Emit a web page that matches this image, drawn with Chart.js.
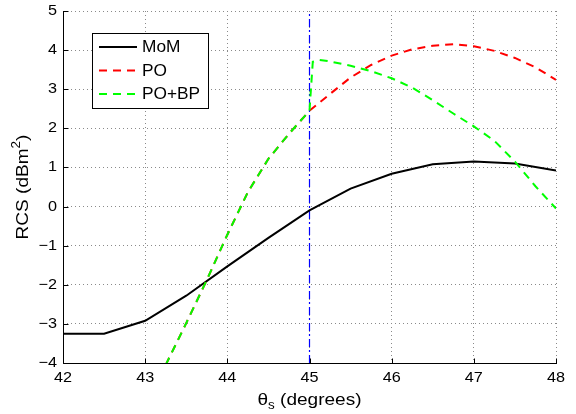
<!DOCTYPE html>
<html><head><meta charset="utf-8">
<script src="https://cdn.jsdelivr.net/npm/chart.js@4/dist/chart.umd.min.js"></script>
<style>html,body{margin:0;padding:0;background:#fff}canvas{display:block}</style>
</head><body>
<canvas id="c" width="576" height="414"></canvas>
<script>
// ---- data ----
const momAngles = [42, 42.5, 43, 43.5, 44, 44.5, 45, 45.5, 46, 46.5, 47, 47.5, 48];
const momRCS    = [-3.25, -3.25, -2.92, -2.28, -1.53, -0.80, -0.10, 0.46, 0.84, 1.08, 1.15, 1.10, 0.92];
const poAngles  = [43.25, 43.5, 43.75, 44, 44.25, 44.5, 44.75, 45, 45.25, 45.5, 45.75, 46, 46.25, 46.5, 46.75, 47, 47.25, 47.5, 47.75, 48];
const poRCS     = [-4.05, -2.98, -1.88, -0.72, 0.37, 1.22, 1.86, 2.45, 2.88, 3.30, 3.62, 3.86, 4.02, 4.11, 4.15, 4.10, 3.98, 3.80, 3.56, 3.24];
const pobpAngles = [43.25, 43.5, 43.75, 44, 44.25, 44.5, 44.75, 45, 45.04, 45.12, 45.25, 45.5, 45.75, 46, 46.25, 46.5, 46.75, 47, 47.25, 47.5, 47.75, 48];
const pobpRCS    = [-4.05, -2.98, -1.88, -0.72, 0.37, 1.22, 1.86, 2.45, 3.70, 3.75, 3.71, 3.60, 3.46, 3.28, 3.04, 2.72, 2.38, 2.05, 1.68, 1.15, 0.52, -0.05];
const markerAngles = [45, 45];
const markerRCS    = [-4, 5];
const xTicks = [42, 43, 44, 45, 46, 47, 48];
const yTicks = [-4, -3, -2, -1, 0, 1, 2, 3, 4, 5];
const seriesNames = ['MoM', 'PO', 'PO+BP'];
const xTitle = ['\u03B8', 's', ' (degrees)'];
const yTitle = ['RCS (dBm', '2', ')'];

const toXY = (xs, ys) => xs.map((x, i) => ({x: x, y: ys[i]}));
const FONT = '"Liberation Sans", Arial, Helvetica, sans-serif';
const fmt = v => v < 0 ? '\u2212' + Math.abs(v) : String(v);

const styles = [
  {color: '#000000', dash: []},
  {color: '#ff0000', dash: [8, 6]},
  {color: '#00ff00', dash: [8, 6]}
];

function drawText(ctx, text, x, y, size, sx, align, base) {
  ctx.save();
  ctx.font = size + 'px ' + FONT;
  ctx.translate(x, y);
  ctx.scale(sx, 1);
  ctx.textAlign = align;
  ctx.textBaseline = base || 'middle';
  ctx.fillText(text, 0, 0);
  ctx.restore();
}

function drawRich(ctx, segs, sx) {
  let total = 0;
  segs.forEach(s => { ctx.font = s.size + 'px ' + FONT; s.w = ctx.measureText(s.t).width * sx; total += s.w; });
  let x = -total / 2;
  segs.forEach(s => {
    ctx.save();
    ctx.font = s.size + 'px ' + FONT;
    ctx.translate(x, s.dy || 0);
    ctx.scale(sx, 1);
    ctx.textAlign = 'left';
    ctx.textBaseline = 'middle';
    ctx.fillStyle = '#000';
    ctx.fillText(s.t, 0, 0);
    ctx.restore();
    x += s.w;
  });
}

const decor = {
  id: 'decor',
  afterDraw(chart) {
    const ctx = chart.ctx;
    const xs = chart.scales.x, ys = chart.scales.y;
    const a = chart.chartArea;
    const L = Math.round(a.left) + 0.5, B = Math.round(a.bottom) + 0.5;
    ctx.save();
    ctx.strokeStyle = '#000';
    ctx.lineWidth = 1;
    ctx.setLineDash([]);
    ctx.beginPath();
    ctx.moveTo(L, Math.round(a.top));
    ctx.lineTo(L, B);
    ctx.lineTo(Math.round(a.right) + 1, B);
    yTicks.forEach(v => { const p = Math.round(ys.getPixelForValue(v)) + 0.5; ctx.moveTo(L, p); ctx.lineTo(L + 5, p); });
    xTicks.forEach(v => { const p = Math.round(xs.getPixelForValue(v)) + 0.5; ctx.moveTo(p, B); ctx.lineTo(p, B - 5); });
    ctx.stroke();

    ctx.fillStyle = '#000';
    yTicks.forEach(v => drawText(ctx, fmt(v), a.left - 6, ys.getPixelForValue(v), 14.5, 1.12, 'right'));
    xTicks.forEach(v => drawText(ctx, fmt(v), xs.getPixelForValue(v), a.bottom + 15, 14.5, 1.12, 'center'));

    ctx.save();
    ctx.translate((a.left + a.right) / 2, 400);
    drawRich(ctx, [
      {t: xTitle[0], size: 17},
      {t: xTitle[1], size: 12, dy: 6},
      {t: xTitle[2], size: 17}
    ], 1.12);
    ctx.restore();

    ctx.save();
    ctx.translate(23, (a.top + a.bottom) / 2);
    ctx.rotate(-Math.PI / 2);
    drawRich(ctx, [
      {t: yTitle[0], size: 17},
      {t: yTitle[1], size: 12, dy: -6},
      {t: yTitle[2], size: 17}
    ], 1.12);
    ctx.restore();

    const bx = 92.5, by = 33.5, bw = 116, bh = 75;
    ctx.fillStyle = '#fff';
    ctx.fillRect(bx, by, bw, bh);
    ctx.strokeStyle = '#000';
    ctx.lineWidth = 1;
    ctx.strokeRect(bx, by, bw, bh);
    const rows = [47, 70.5, 94];
    seriesNames.forEach((n, i) => {
      ctx.save();
      ctx.strokeStyle = styles[i].color;
      ctx.lineWidth = 2;
      ctx.setLineDash(styles[i].dash);
      ctx.beginPath();
      ctx.moveTo(99, rows[i]);
      ctx.lineTo(137, rows[i]);
      ctx.stroke();
      ctx.restore();
      ctx.fillStyle = '#000';
      drawText(ctx, n, 142, rows[i] + 1, 16, 1.08, 'left');
    });
    ctx.restore();
  }
};

const axisCommon = {
  type: 'linear',
  grid: {color: '#8a8a8a', lineWidth: 1, drawTicks: false, tickBorderDash: [1, 3]},
  border: {display: false, dash: [1, 3]},
  ticks: {display: false}
};

new Chart(document.getElementById('c').getContext('2d'), {
  type: 'line',
  data: {
    datasets: [
      {label: seriesNames[0], data: toXY(momAngles, momRCS), borderColor: styles[0].color, borderWidth: 2, borderDash: styles[0].dash, pointRadius: 0, tension: 0, order: 2},
      {label: seriesNames[1], data: toXY(poAngles, poRCS), borderColor: styles[1].color, borderWidth: 2, borderDash: styles[1].dash, pointRadius: 0, tension: 0, order: 1},
      {label: seriesNames[2], data: toXY(pobpAngles, pobpRCS), borderColor: styles[2].color, borderWidth: 2, borderDash: styles[2].dash, pointRadius: 0, tension: 0, order: 0},
      {label: 'marker', data: toXY(markerAngles, markerRCS), borderColor: '#0000ff', borderWidth: 1.2, borderDash: [8, 3, 2, 3], pointRadius: 0, order: 3}
    ]
  },
  options: {
    responsive: false,
    animation: false,
    devicePixelRatio: 1,
    layout: {padding: {left: 0, right: 20, top: 11, bottom: 0}},
    plugins: {legend: {display: false}, tooltip: {enabled: false}},
    scales: {
      x: Object.assign({}, axisCommon, {
        min: 42, max: 48,
        afterBuildTicks: s => { s.ticks = xTicks.map(v => ({value: v})); },
        afterFit: s => { s.height = 51; }
      }),
      y: Object.assign({}, axisCommon, {
        min: -4, max: 5,
        afterBuildTicks: s => { s.ticks = yTicks.map(v => ({value: v})); },
        afterFit: s => { s.width = 63; }
      })
    }
  },
  plugins: [decor]
});
</script>
</body></html>
